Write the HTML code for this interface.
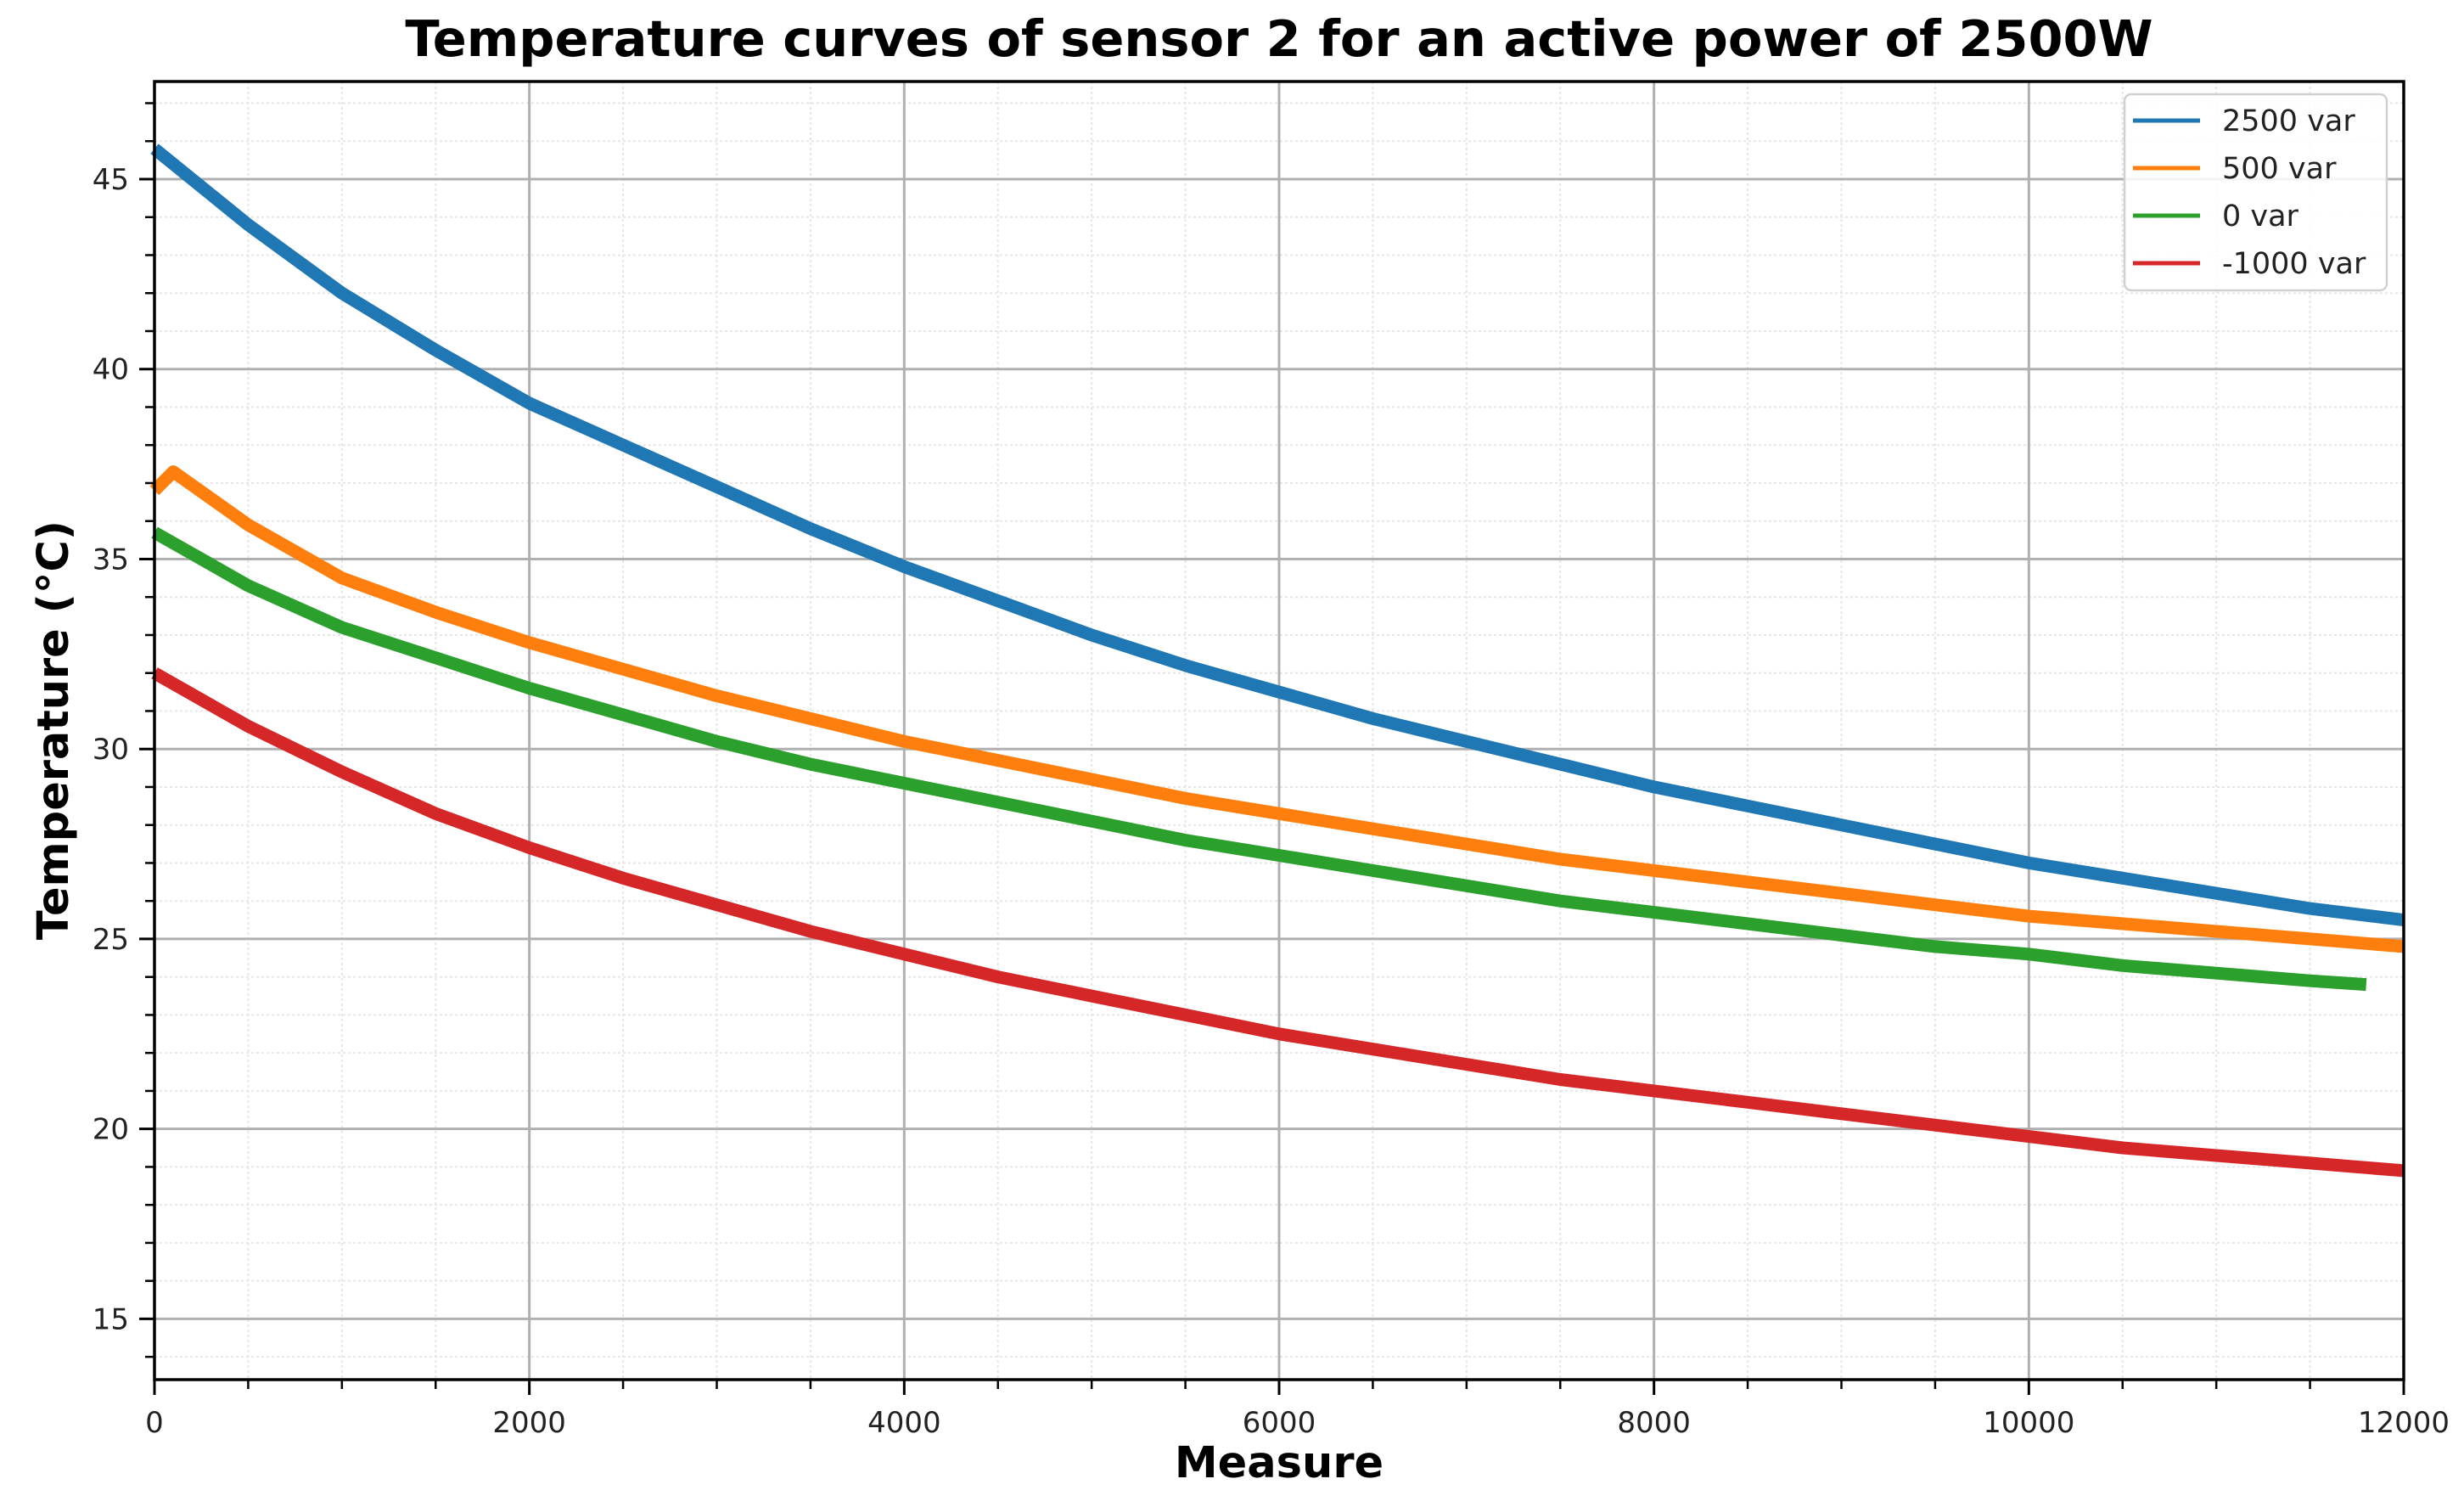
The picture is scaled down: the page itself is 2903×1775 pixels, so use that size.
<!DOCTYPE html>
<html><head><meta charset="utf-8">
<style>
html,body{margin:0;padding:0;background:#fff;}
svg{display:block;font-family:"DejaVu Sans","Liberation Sans",sans-serif;}
</style></head>
<body>
<svg id="chart" width="2903" height="1775" viewBox="0 0 2903 1775" xmlns="http://www.w3.org/2000/svg">
<text x="1507" y="66" font-size="59" font-weight="bold" text-anchor="middle">Temperature curves of sensor 2 for an active power of 2500W</text>
<text x="1507" y="1740" font-size="51" font-weight="bold" text-anchor="middle">Measure</text>
<text x="0" y="0" font-size="51" font-weight="bold" text-anchor="middle" transform="translate(80,860) rotate(-90)">Temperature (°C)</text>
<g id="grid"></g>
<g id="series"></g>
<g id="axes"></g>
<g id="legend"></g>
</svg>
<script>
const xValues = [0,500,1000,1500,2000,2500,3000,3500,4000,4500,5000,5500,6000,6500,7000,7500,8000,8500,9000,9500,10000,10500,11000,11500,12000];
const blueValues = [45.8,43.8,42.0,40.5,39.1,38.0,36.9,35.8,34.8,33.9,33.0,32.2,31.5,30.8,30.2,29.6,29.0,28.5,28.0,27.5,27.0,26.6,26.2,25.8,25.5];
const orangeX = [0,100,500,1000,1500,2000,2500,3000,3500,4000,4500,5000,5500,6000,6500,7000,7500,8000,8500,9000,9500,10000,10500,11000,11500,12000];
const orangeValues = [36.8,37.3,35.9,34.5,33.6,32.8,32.1,31.4,30.8,30.2,29.7,29.2,28.7,28.3,27.9,27.5,27.1,26.8,26.5,26.2,25.9,25.6,25.4,25.2,25.0,24.8];
const greenX = [0,500,1000,1500,2000,2500,3000,3500,4000,4500,5000,5500,6000,6500,7000,7500,8000,8500,9000,9500,10000,10500,11000,11500,11800];
const greenValues = [35.7,34.3,33.2,32.4,31.6,30.9,30.2,29.6,29.1,28.6,28.1,27.6,27.2,26.8,26.4,26.0,25.7,25.4,25.1,24.8,24.6,24.3,24.1,23.9,23.8];
const redValues = [32.0,30.6,29.4,28.3,27.4,26.6,25.9,25.2,24.6,24.0,23.5,23.0,22.5,22.1,21.7,21.3,21.0,20.7,20.4,20.1,19.8,19.5,19.3,19.1,18.9];
const seriesNames = ["2500 var","500 var","0 var","-1000 var"];
const xTickLabels = ["0","2000","4000","6000","8000","10000","12000"];
const yTickLabels = ["15","20","25","30","35","40","45"];

const NS="http://www.w3.org/2000/svg";
const L=182,R=2832,T=96,B=1625;
const xMin=0,xMax=12000,yMin=13.4,yMax=47.57;
const xs=v=>L+(v-xMin)/(xMax-xMin)*(R-L);
const ys=v=>B-(v-yMin)/(yMax-yMin)*(B-T);
function mk(tag,attrs,parent){const e=document.createElementNS(NS,tag);for(const k in attrs)e.setAttribute(k,attrs[k]);parent.appendChild(e);return e;}
const grid=document.getElementById('grid'),axes=document.getElementById('axes'),ser=document.getElementById('series'),leg=document.getElementById('legend');

for(let v=0;v<=12000;v+=500){if(v%2000===0)continue;const e=mk('line',{x1:xs(v),x2:xs(v),y1:T,y2:B,stroke:'#e6e6e6','stroke-width':2,'stroke-dasharray':'3,3'},grid);


const t=mk('line',{x1:xs(v),x2:xs(v),y1:B,y2:B+11,stroke:'#000','stroke-width':2.5},axes);

}
for(let v=14;v<=47;v++){if(v%5===0)continue;const e=mk('line',{x1:L,x2:R,y1:ys(v),y2:ys(v),stroke:'#e6e6e6','stroke-width':2,'stroke-dasharray':'3,3'},grid);


const t=mk('line',{x1:L-11,x2:L,y1:ys(v),y2:ys(v),stroke:'#000','stroke-width':2.5},axes);

}
xTickLabels.forEach(s=>{const v=+s;const g=mk('line',{x1:xs(v),x2:xs(v),y1:T,y2:B,stroke:'#b0b0b0','stroke-width':3},grid);


const t=mk('line',{x1:xs(v),x2:xs(v),y1:B,y2:B+18,stroke:'#000','stroke-width':3},axes);


const tx=mk('text',{x:xs(v),y:B+62,'font-size':34,'text-anchor':'middle',fill:'#222'},axes);tx.textContent=s;

});
yTickLabels.forEach(s=>{const v=+s;const g=mk('line',{x1:L,x2:R,y1:ys(v),y2:ys(v),stroke:'#b0b0b0','stroke-width':3},grid);


const t=mk('line',{x1:L-18,x2:L,y1:ys(v),y2:ys(v),stroke:'#000','stroke-width':3},axes);


const tx=mk('text',{x:L-30,y:ys(v)+12,'font-size':34,'text-anchor':'end',fill:'#222'},axes);tx.textContent=s;

});
const frame=mk('rect',{x:L,y:T,width:R-L,height:B-T,fill:'none',stroke:'#000','stroke-width':3.5},axes);



const colors=['#1f77b4','#ff7f0e','#2ca02c','#d62728'];
const data=[[xValues,blueValues],[orangeX,orangeValues],[greenX,greenValues],[xValues,redValues]];
const names=['line-2500-var','line-500-var','line-0-var','line-minus-1000-var'];
data.forEach((d,i)=>{const pts=d[0].map((x,j)=>xs(x).toFixed(1)+','+ys(d[1][j]).toFixed(1)).join(' ');
const p=mk('polyline',{points:pts,fill:'none',stroke:colors[i],'stroke-width':15,'stroke-linejoin':'round'},ser);

});

const box=mk('rect',{x:2503,y:111,width:309,height:231,rx:8,fill:'#fff','fill-opacity':0.85,stroke:'#d0d0d0','stroke-width':2.5},leg);


seriesNames.forEach((n,i)=>{const y=142+i*56;
const l=mk('line',{x1:2513,x2:2592,y1:y,y2:y,stroke:colors[i],'stroke-width':5},leg);


const t=mk('text',{x:2618,y:y+12,'font-size':35,fill:'#222'},leg);t.textContent=n;

});
</script>
</body></html>
